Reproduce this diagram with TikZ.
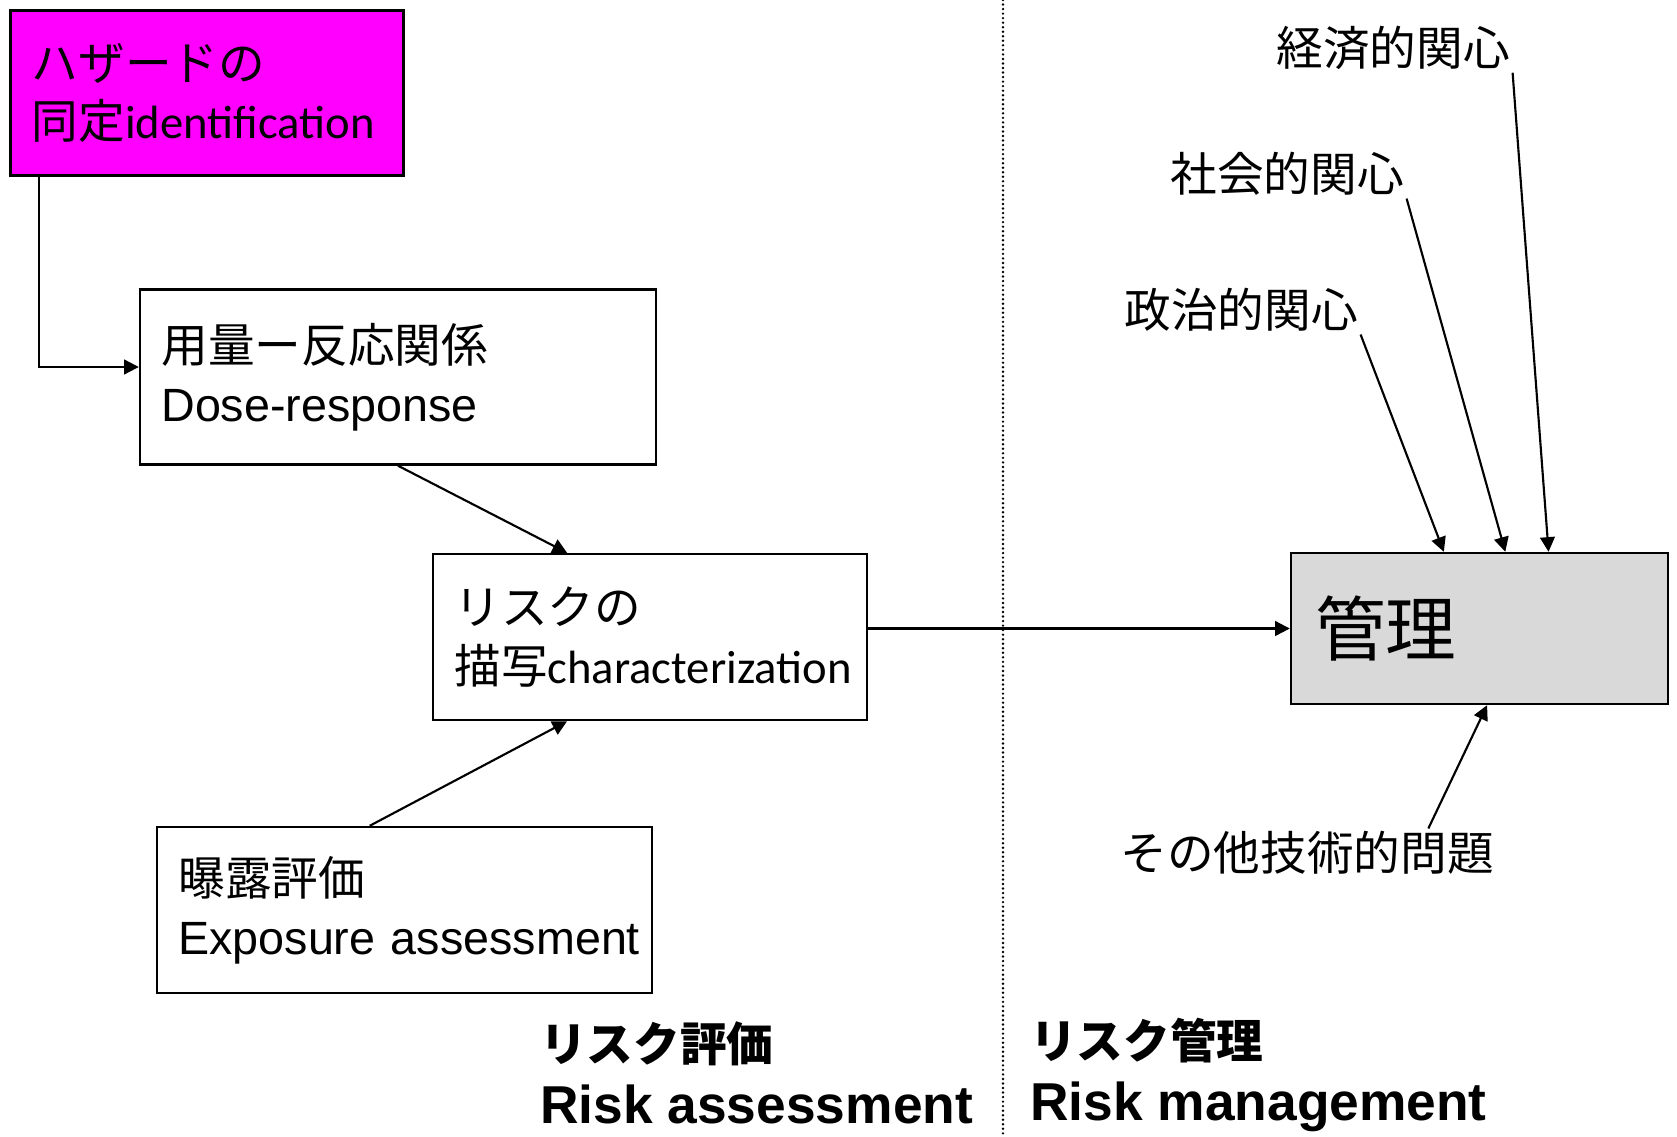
\documentclass[tikz,border=0pt]{standalone}
\usepackage{fontspec}
\setmainfont{Liberation Sans}
\newfontfamily\jpfont{Noto Sans CJK JP}
\newfontfamily\calib{Carlito}
\usetikzlibrary{arrows.meta,calc}
\definecolor{hazmag}{HTML}{FF00FF}
\definecolor{mgmtgray}{HTML}{D9D9D9}

\begin{document}
\begin{tikzpicture}[
  x=0.75pt, y=-0.75pt,
  box/.style={draw, line width=1.8pt, align=left, inner xsep=16pt, inner ysep=0pt, font=\fontsize{35}{44}\selectfont},
  lbl/.style={inner sep=2pt, font=\jpfont\fontsize{35}{44}\selectfont},
  ttl/.style={anchor=west, align=left, inner sep=0pt, font=\bfseries\fontsize{40}{47}\selectfont},
  ar/.style={-{Triangle[length=11pt,width=11pt]}, line width=1.6pt}]
\useasboundingbox (0,0) rectangle (1677,1136);

\node[box, fill=hazmag, minimum width=294.75pt, minimum height=124pt, text width=262.75pt] (haz) at (207,93)
  {{\jpfont ハザードの}\\{\jpfont 同定}{\calib identification}};
\node[box, minimum width=387pt, minimum height=131.25pt, text width=355pt] (dose) at (398,377)
  {{\jpfont 用量ー反応関係}\\Dose-response};
\node[box, minimum width=325.5pt, minimum height=124.5pt, text width=293.5pt] (char) at (650,637)
  {{\jpfont リスクの}\\\mbox{{\jpfont 描写}{\calib characterization}}};
\node[box, minimum width=371.25pt, minimum height=124.5pt, text width=339.25pt] (expo) at (404.5,910)
  {{\jpfont 曝露評価}\\\mbox{Exposure assessment}};
\node[box, fill=mgmtgray, inner xsep=18pt, minimum width=282.75pt, minimum height=113.25pt, text width=246.75pt,
  font=\jpfont\fontsize{53}{60}\selectfont] (mgmt) at (1479.5,628.5) {管理};

\node[lbl] (eco) at (1393,48) {経済的関心};
\node[lbl] (soc) at (1287,174) {社会的関心};
\node[lbl] (pol) at (1241,310) {政治的関心};
\node[lbl] (oth) at (1307,853) {その他技術的問題};

\node[ttl] (assess) at (540,1073) {{\jpfont\fontsize{35}{47}\selectfont リスク評価}\\Risk assessment};
\node[ttl] (manage) at (1030,1075) {{\jpfont\fontsize{35}{47}\selectfont リスク管理}\\Risk management};

\draw[line width=2pt, line cap=round, dash pattern=on 0pt off 3.4pt] (1003,0) -- (1003,1136);

\draw[ar] ([xshift=22.5pt]haz.south west) |- ([yshift=7.5pt]dose.west);
\draw[ar] (dose.south) -- ($(char.north west)!0.31!(char.north east)$);
\draw[ar] ($(expo.north west)!0.43!(expo.north east)$) -- ($(char.south west)!0.31!(char.south east)$);
\draw[ar] (mgmt.west -| char.east) -- (mgmt.west);
\draw[ar] (pol.south east) -- ($(mgmt.north west)!0.406!(mgmt.north east)$);
\draw[ar] (soc.south east) -- ($(mgmt.north west)!0.568!(mgmt.north east)$);
\draw[ar] (eco.south east) -- ($(mgmt.north west)!0.682!(mgmt.north east)$);
\draw[ar] ($(oth.north west)!0.82!(oth.north east)$) -- ($(mgmt.south west)!0.52!(mgmt.south east)$);
\end{tikzpicture}
\end{document}
